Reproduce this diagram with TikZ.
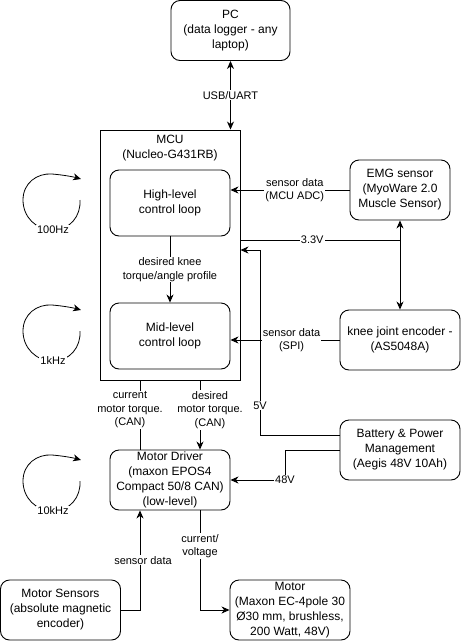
\documentclass[tikz,border=0pt]{standalone}
\usepackage{fontspec}
\setmainfont{Liberation Sans}
\usetikzlibrary{positioning, arrows.meta}

\begin{document}
\begin{tikzpicture}
	[x=1pt, y=-1pt, on grid, line width=0.9pt,
	 >={Stealth[length=8pt, width=7pt, inset=2.5pt]},
	 block/.style={draw, rounded corners=9pt, align=center, inner sep=0pt,
	   minimum width=120pt, minimum height=60pt, font=\fontsize{12}{15}\selectfont},
	 lbl/.style={fill=white, align=center, inner sep=1pt, font=\fontsize{11}{13.5}\selectfont}]
   \useasboundingbox (0,0) rectangle (461,641);
   \node[block, rounded corners=0pt, minimum width=140pt, minimum height=250pt,
     label={[align=center, anchor=north, inner sep=0pt, yshift=-5.5pt, font=\fontsize{12}{15}\selectfont]north:MCU\\(Nucleo-G431RB)}]
     (mcu) at (170,255) {};
   \node[block, minimum height=66pt] (high) at (170,203) {High-level\\control loop};
   \node[block, minimum height=66pt] (mid) [below=133pt of high] {Mid-level\\control loop};
   \node[block, minimum width=119pt] (pc) at (230.5,30.5) {PC\\(data logger - any\\laptop)};
   \node[block, minimum width=100pt] (emg) at (400,190) {EMG sensor\\(MyoWare 2.0\\Muscle Sensor)};
   \node[block] (knee) [below=150pt of emg] {knee joint encoder -\\(AS5048A)};
   \node[block] (bat) [below=110pt of knee] {Battery \& Power\\Management\\(Aegis 48V 10Ah)};
   \node[block] (drv) [below=144pt of mid] {Motor Driver\\(maxon EPOS4\\Compact 50/8 CAN)\\(low-level)};
   \node[block] (sens) at (60.5,610) {Motor Sensors\\(absolute magnetic\\encoder)};
   \node[block] (motor) [below right=130pt and 120pt of drv] {Motor\\(Maxon EC-4pole 30\\Ø30 mm, brushless,\\200 Watt, 48V)};

   \coordinate (v33) at (400,240);
   \coordinate (p5) at (260,250);
   \coordinate (p48) at (285,480);

   \draw[<->] (pc) -- (pc |- mcu.north) node[lbl, midway] (usb) {USB/UART};
   \draw[->] (high) -- (mid) node[lbl, midway] (prof) {desired knee\\torque/angle profile};
   \draw[->] (emg) -- (emg.west -| high.east) node[lbl, pos=0.46] (adc) {sensor data\\(MCU ADC)};
   \draw (mcu.east |- v33) -- (v33) node[lbl, pos=0.45] (v3) {3.3V};
   \draw[<->] (emg) -- (knee);
   \draw[->] (knee) -- (knee.west -| mid.east) node[lbl, pos=0.44] (spi) {sensor data\\(SPI)};
   \draw[->] ([yshift=15pt]bat.west) -| (p5) node[lbl, pos=0.58] (v5) {5V} -- (p5 -| mcu.east);
   \draw[->] (bat.west) -| (p48) node[lbl] (v48) {48V} -- (p48 -| drv.east);
   \draw ([xshift=-30pt]drv.north) -- ([xshift=-30pt]drv.north |- mcu.south)
     node[lbl, midway, xshift=-10pt, yshift=5pt] (cur) {current\\motor torque.\\(CAN)};
   \draw[->] ([xshift=30pt]drv.north |- mcu.south) -- ([xshift=30pt]drv.north)
     node[lbl, midway, xshift=10pt, yshift=5pt] (des) {desired\\motor torque.\\(CAN)};
   \draw[->] (sens) -| ([xshift=-30pt]drv.south) node[lbl, pos=0.75, xshift=3pt] (sd) {sensor data};
   \draw[->] ([xshift=30pt]drv.south) |- (motor) node[lbl, pos=0.18] (cv) {current/\\voltage};

   % loop rates
   \foreach \dy/\hz in {0/100Hz, 131/1kHz, 281/10kHz} {
     \begin{scope}[yshift=-\dy pt]
       \draw[->, line width=0.8pt] (80,200) .. controls (81,216) and (70,230) .. (53,230) node[lbl] (f\dy) {\hz}
         .. controls (36,230) and (23,217) .. (23,200) .. controls (23,183) and (37,173) .. (52,174)
         .. controls (64,175) and (74,177) .. (81,179);
     \end{scope}
   }
\end{tikzpicture}
\end{document}
